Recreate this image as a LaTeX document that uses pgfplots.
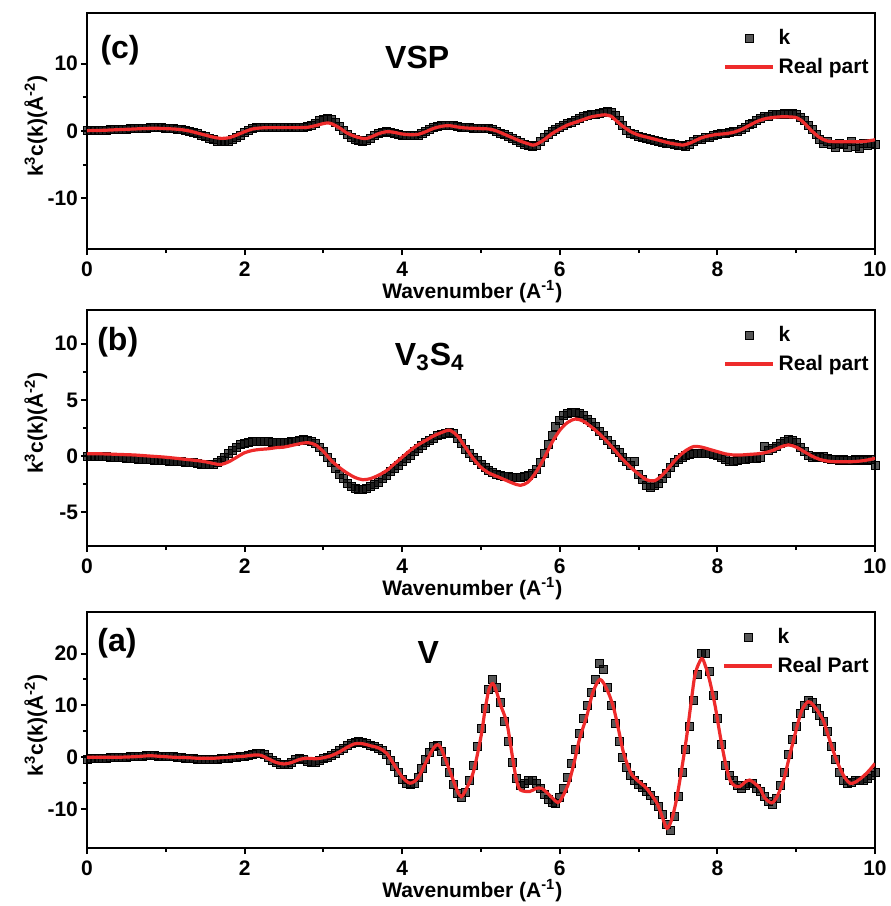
\documentclass[border=0pt]{standalone}
\usepackage{pgfplots}
\pgfplotsset{compat=1.18}
\usepackage{fontspec}
\setmainfont{Liberation Sans}
\definecolor{fitred}{HTML}{EE2B2B}
\tikzset{big/.style={font=\bfseries\fontsize{16}{19}\selectfont}}
\pgfplotsset{
 myax/.style={
  scale only axis, width=394pt, height=118pt, clip mode=individual,
  xmin=0, xmax=10, xtick={0,2,4,6,8,10}, minor x tick num=1, minor y tick num=1,
  axis line style={line width=1.2pt},
  tick style={line width=1pt, black},
  major tick length=3pt, minor tick length=2pt,
  tick align=outside, xtick pos=bottom, ytick pos=left,
  /pgf/number format/assume math mode=true,
  tick label style={font=\bfseries\fontsize{10.5}{12}\selectfont},
  yticklabel style={xshift=2pt},
  label style={font=\bfseries\fontsize{10.5}{13}\selectfont},
  xlabel={Wavenumber (A\textsuperscript{-1})},
  ylabel={k\textsuperscript{3}c(k)(Å\textsuperscript{-2})},
  xlabel style={at={(axis description cs:0.489,0)}, anchor=base, yshift=-24.5pt},
  ylabel style={at={(axis description cs:-0.056,0.52)}, anchor=base},
  legend style={draw=none, fill=none, at={(rel axis cs:1.005,0.965)}, anchor=north east,
    font=\bfseries\fontsize{10.5}{13}\selectfont, row sep=1pt},
  legend cell align=left,
  legend image code/.code={\draw[mark repeat=2,mark phase=2,#1] plot coordinates {(0pt,0pt) (12pt,0pt) (24pt,0pt)};},
 },
 dots/.style={only marks, mark=square*, mark size=2pt, mark options={draw=none, fill=black, fill opacity=0.66}},
 fit/.style={color=fitred, line width=1.6pt, smooth, mark=none},
}
\begin{document}
\begin{tikzpicture}
\useasboundingbox (-43.5pt,6.5pt) rectangle (401.5pt,-446.5pt);
% ---------------- (c) VSP
\begin{axis}[myax, at={(0pt,0pt)}, anchor=north west, ymin=-17.5, ymax=17.5, ytick={-10,0,10}]
\addplot[dots] coordinates {
(0.00,0.1)(0.05,0.1)(0.10,0.1)(0.15,0.1)(0.20,0.15)(0.25,0.15)(0.30,0.2)(0.35,0.2)(0.40,0.25)(0.45,0.3)
(0.50,0.3)(0.55,0.35)(0.60,0.4)(0.65,0.4)(0.70,0.45)(0.75,0.45)(0.80,0.5)(0.85,0.5)(0.90,0.5)(0.95,0.5)
(1.00,0.45)(1.05,0.4)(1.10,0.35)(1.15,0.3)(1.20,0.2)(1.25,0.1)(1.30,0.0)(1.35,-0.2)(1.40,-0.4)(1.45,-0.6)
(1.50,-0.85)(1.55,-1.1)(1.60,-1.3)(1.65,-1.5)(1.70,-1.6)(1.75,-1.6)(1.80,-1.5)(1.85,-1.3)(1.90,-1.0)(1.95,-0.6)
(2.00,-0.2)(2.05,0.1)(2.10,0.35)(2.15,0.5)(2.20,0.55)(2.25,0.6)(2.30,0.6)(2.35,0.6)(2.40,0.6)(2.45,0.6)
(2.50,0.6)(2.55,0.6)(2.60,0.6)(2.65,0.55)(2.70,0.55)(2.75,0.6)(2.80,0.7)(2.85,0.9)(2.90,1.2)(2.95,1.5)
(3.00,1.7)(3.05,1.8)(3.10,1.7)(3.15,1.3)(3.20,0.7)(3.25,0.1)(3.30,-0.5)(3.35,-0.9)(3.40,-1.2)(3.45,-1.4)
(3.50,-1.5)(3.55,-1.4)(3.60,-1.1)(3.65,-0.7)(3.70,-0.4)(3.75,-0.2)(3.80,-0.1)(3.85,-0.2)(3.90,-0.3)(3.95,-0.5)
(4.00,-0.6)(4.05,-0.7)(4.10,-0.7)(4.15,-0.7)(4.20,-0.6)(4.25,-0.4)(4.30,-0.1)(4.35,0.2)(4.40,0.5)(4.45,0.7)
(4.50,0.8)(4.55,0.9)(4.60,0.9)(4.65,0.8)(4.70,0.7)(4.75,0.6)(4.80,0.5)(4.85,0.5)(4.90,0.45)(4.95,0.45)
(5.00,0.4)(5.05,0.4)(5.10,0.35)(5.15,0.2)(5.20,0.0)(5.25,-0.3)(5.30,-0.5)(5.35,-0.8)(5.40,-1.1)(5.45,-1.4)
(5.50,-1.7)(5.55,-2.0)(5.60,-2.2)(5.65,-2.3)(5.70,-2.1)(5.75,-1.6)(5.80,-1.0)(5.85,-0.5)(5.90,-0.1)(5.95,0.3)
(6.00,0.6)(6.05,0.8)(6.10,1.1)(6.15,1.3)(6.20,1.6)(6.25,1.9)(6.30,2.1)(6.35,2.3)(6.40,2.4)(6.45,2.5)
(6.50,2.6)(6.55,2.7)(6.60,2.9)(6.65,2.8)(6.70,2.3)(6.75,1.6)(6.80,0.8)(6.85,0.1)(6.90,-0.3)(6.95,-0.5)
(7.00,-0.8)(7.05,-0.9)(7.10,-1.1)(7.15,-1.3)(7.20,-1.4)(7.25,-1.5)(7.30,-1.7)(7.35,-1.8)(7.40,-1.9)(7.45,-2.0)
(7.50,-2.1)(7.55,-2.2)(7.60,-2.3)(7.65,-2.0)(7.70,-1.6)(7.75,-1.3)(7.80,-1.2)(7.85,-0.9)(7.90,-0.9)(7.95,-0.6)
(8.00,-0.5)(8.05,-0.4)(8.10,-0.4)(8.15,-0.2)(8.20,-0.1)(8.25,0.0)(8.30,0.3)(8.35,0.6)(8.40,1.0)(8.45,1.2)
(8.50,1.5)(8.55,1.9)(8.60,2.1)(8.65,2.2)(8.70,2.4)(8.75,2.5)(8.80,2.4)(8.85,2.6)(8.90,2.5)(8.95,2.6)
(9.00,2.4)(9.05,2.0)(9.10,1.5)(9.15,0.9)(9.20,0.3)(9.25,-0.5)(9.30,-1.2)(9.35,-1.8)(9.40,-1.5)(9.45,-2.0)
(9.50,-2.4)(9.55,-1.9)(9.60,-2.0)(9.65,-2.4)(9.70,-1.6)(9.75,-2.3)(9.80,-2.6)(9.85,-1.8)(9.90,-2.2)(9.95,-1.9)(10.00,-2.0)
};
\addlegendentry{k}
\addplot[fit] coordinates {
(0,0.05)(0.2,0.1)(0.4,0.2)(0.6,0.3)(0.8,0.4)(0.9,0.4)(1.0,0.35)(1.1,0.3)(1.2,0.2)(1.3,0.0)
(1.4,-0.3)(1.5,-0.6)(1.6,-0.9)(1.7,-1.1)(1.8,-1.0)(1.9,-0.6)(2.0,-0.1)(2.1,0.3)(2.2,0.45)(2.3,0.5)
(2.4,0.5)(2.5,0.5)(2.6,0.5)(2.7,0.5)(2.8,0.55)(2.9,0.8)(3.0,1.1)(3.06,1.2)(3.1,1.1)(3.2,0.5)
(3.3,-0.3)(3.4,-0.8)(3.5,-1.1)(3.55,-1.1)(3.6,-0.9)(3.7,-0.4)(3.8,-0.1)(3.9,-0.2)(4.0,-0.45)(4.1,-0.55)
(4.2,-0.5)(4.3,-0.1)(4.4,0.4)(4.5,0.7)(4.6,0.8)(4.7,0.6)(4.8,0.45)(4.9,0.4)(5.0,0.35)(5.1,0.3)
(5.2,0.0)(5.3,-0.5)(5.4,-1.0)(5.5,-1.5)(5.6,-1.9)(5.66,-2.1)(5.7,-2.0)(5.8,-1.3)(5.9,-0.4)(6.0,0.3)
(6.1,0.9)(6.2,1.3)(6.3,1.7)(6.4,2.1)(6.5,2.3)(6.57,2.4)(6.65,2.2)(6.7,1.7)(6.8,0.7)(6.9,-0.1)
(7.0,-0.6)(7.1,-0.9)(7.2,-1.2)(7.3,-1.5)(7.4,-1.8)(7.5,-2.0)(7.56,-2.1)(7.65,-1.8)(7.8,-1.0)(7.9,-0.7)
(8.0,-0.5)(8.1,-0.4)(8.2,-0.2)(8.3,0.2)(8.4,0.8)(8.5,1.4)(8.6,1.8)(8.7,2.0)(8.8,2.1)(8.9,2.1)
(9.0,2.0)(9.05,1.7)(9.1,1.2)(9.2,0.0)(9.3,-1.0)(9.4,-1.5)(9.5,-1.6)(9.6,-1.6)(9.7,-1.6)(9.8,-1.6)(9.9,-1.5)(10.0,-1.3)
};
\addlegendentry{Real part}
\node[big] at (rel axis cs:0.042,0.843) {(c)};
\node[big] at (rel axis cs:0.419,0.81) {VSP};
\end{axis}
% ---------------- (b) V3S4
\begin{axis}[myax, at={(0pt,-148.5pt)}, anchor=north west, ymin=-8, ymax=13, ytick={-5,0,5,10}]
\addplot[dots] coordinates {
(0.00,0.0)(0.05,0.0)(0.10,0.0)(0.15,0.0)(0.20,0.0)(0.25,-0.05)(0.30,-0.1)(0.35,-0.1)(0.40,-0.1)(0.45,-0.15)
(0.50,-0.2)(0.55,-0.2)(0.60,-0.2)(0.65,-0.25)(0.70,-0.3)(0.75,-0.3)(0.80,-0.3)(0.85,-0.35)(0.90,-0.4)(0.95,-0.4)
(1.00,-0.4)(1.05,-0.45)(1.10,-0.5)(1.15,-0.5)(1.20,-0.5)(1.25,-0.55)(1.30,-0.6)(1.35,-0.6)(1.40,-0.65)(1.45,-0.7)
(1.50,-0.7)(1.55,-0.7)(1.60,-0.7)(1.65,-0.6)(1.70,-0.4)(1.75,-0.1)(1.80,0.2)(1.85,0.5)(1.90,0.8)(1.95,1.0)
(2.00,1.15)(2.05,1.25)(2.10,1.3)(2.15,1.35)(2.20,1.35)(2.25,1.3)(2.30,1.3)(2.35,1.25)(2.40,1.2)(2.45,1.2)
(2.50,1.2)(2.55,1.25)(2.60,1.3)(2.65,1.35)(2.70,1.4)(2.75,1.45)(2.80,1.4)(2.85,1.3)(2.90,1.1)(2.95,0.8)
(3.00,0.4)(3.05,-0.1)(3.10,-0.6)(3.15,-1.1)(3.20,-1.6)(3.25,-2.0)(3.30,-2.4)(3.35,-2.7)(3.40,-2.85)(3.45,-2.95)
(3.50,-2.95)(3.55,-2.85)(3.60,-2.7)(3.65,-2.5)(3.70,-2.3)(3.75,-2.0)(3.80,-1.7)(3.85,-1.4)(3.90,-1.1)(3.95,-0.8)
(4.00,-0.5)(4.05,-0.2)(4.10,0.1)(4.15,0.4)(4.20,0.7)(4.25,0.95)(4.30,1.2)(4.35,1.4)(4.40,1.6)(4.45,1.8)
(4.50,1.95)(4.55,2.05)(4.60,2.1)(4.65,2.0)(4.70,1.6)(4.75,1.1)(4.80,0.6)(4.85,0.2)(4.90,-0.1)(4.95,-0.4)
(5.00,-0.7)(5.05,-1.0)(5.10,-1.25)(5.15,-1.45)(5.20,-1.6)(5.25,-1.7)(5.30,-1.8)(5.35,-1.85)(5.40,-1.9)(5.45,-1.9)
(5.50,-1.9)(5.55,-1.85)(5.60,-1.75)(5.65,-1.55)(5.70,-1.2)(5.75,-0.6)(5.80,0.2)(5.85,1.0)(5.90,1.8)(5.95,2.6)
(6.00,3.2)(6.05,3.6)(6.10,3.8)(6.15,3.9)(6.20,3.9)(6.25,3.8)(6.30,3.6)(6.35,3.3)(6.40,3.0)(6.45,2.6)
(6.50,2.2)(6.55,1.8)(6.60,1.4)(6.65,1.0)(6.70,0.6)(6.75,0.3)(6.80,-0.1)(6.85,-0.5)(6.90,-0.8)(6.95,-0.5)
(7.00,-1.6)(7.05,-2.1)(7.10,-2.6)(7.15,-2.75)(7.20,-2.6)(7.25,-2.4)(7.30,-2.0)(7.35,-1.5)(7.40,-1.0)(7.45,-0.6)
(7.50,-0.3)(7.55,-0.1)(7.60,0.05)(7.65,0.15)(7.70,0.2)(7.75,0.2)(7.80,0.2)(7.85,0.2)(7.90,0.2)(7.95,0.15)
(8.00,0.1)(8.05,-0.1)(8.10,-0.3)(8.15,-0.45)(8.20,-0.45)(8.25,-0.4)(8.30,-0.3)(8.35,-0.3)(8.40,-0.2)(8.45,-0.2)
(8.50,-0.2)(8.55,-0.1)(8.60,0.9)(8.65,0.5)(8.70,0.7)(8.75,0.9)(8.80,1.1)(8.85,1.3)(8.90,1.45)(8.95,1.4)
(9.00,1.2)(9.05,0.8)(9.10,0.4)(9.15,0.1)(9.20,-0.1)(9.25,0.0)(9.30,-0.1)(9.35,0.0)(9.40,-0.2)(9.45,-0.3)
(9.50,-0.3)(9.55,-0.4)(9.60,-0.3)(9.65,-0.4)(9.70,-0.4)(9.75,-0.3)(9.80,-0.4)(9.85,-0.3)(9.90,-0.4)(9.95,-0.3)(10.00,-0.8)
};
\addlegendentry{k}
\addplot[fit] coordinates {
(0.0,0.2)(0.2,0.2)(0.4,0.15)(0.6,0.1)(0.8,0.0)(1.0,-0.1)(1.2,-0.25)(1.4,-0.4)(1.5,-0.5)(1.6,-0.65)
(1.7,-0.75)(1.8,-0.5)(1.9,-0.1)(2.0,0.3)(2.1,0.5)(2.2,0.6)(2.3,0.65)(2.4,0.75)(2.5,0.8)(2.6,0.95)
(2.7,1.1)(2.8,1.2)(2.9,1.0)(3.0,0.4)(3.1,-0.4)(3.2,-1.0)(3.3,-1.5)(3.4,-1.9)(3.5,-2.1)(3.6,-2.0)
(3.7,-1.7)(3.8,-1.3)(3.9,-0.7)(4.0,-0.1)(4.1,0.5)(4.2,1.0)(4.3,1.4)(4.4,1.8)(4.5,2.1)(4.6,2.3)
(4.7,1.8)(4.8,0.8)(4.9,-0.2)(5.0,-1.0)(5.1,-1.5)(5.2,-1.8)(5.3,-2.1)(5.4,-2.4)(5.5,-2.6)(5.6,-2.3)
(5.7,-1.4)(5.8,-0.2)(5.9,1.2)(6.0,2.3)(6.1,3.0)(6.2,3.3)(6.3,3.1)(6.4,2.6)(6.5,2.0)(6.6,1.3)
(6.7,0.5)(6.8,-0.3)(6.9,-1.0)(7.0,-1.6)(7.1,-2.1)(7.2,-2.2)(7.3,-1.7)(7.4,-0.9)(7.5,-0.1)(7.6,0.5)
(7.7,0.85)(7.8,0.8)(7.9,0.6)(8.0,0.4)(8.1,0.2)(8.2,0.1)(8.3,0.1)(8.4,0.15)(8.5,0.2)(8.6,0.3)
(8.7,0.5)(8.8,0.8)(8.9,1.0)(9.0,0.8)(9.1,0.4)(9.2,0.0)(9.3,-0.3)(9.4,-0.45)(9.5,-0.5)(9.6,-0.5)
(9.7,-0.5)(9.8,-0.45)(9.9,-0.35)(10.0,-0.2)
};
\addlegendentry{Real part}
\node[big] at (rel axis cs:0.039,0.865) {(b)};
\node[big] at (rel axis cs:0.435,0.80) {V\textsubscript{3}S\textsubscript{4}};
\end{axis}
% ---------------- (a) V
\begin{axis}[myax, at={(0pt,-299.5pt)}, anchor=north west, ymin=-17.5, ymax=28, ytick={-10,0,10,20}]
\addplot[dots] coordinates {
(0.00,-0.4)(0.05,-0.3)(0.10,-0.3)(0.15,-0.2)(0.20,-0.2)(0.25,-0.2)(0.30,-0.1)(0.35,-0.1)(0.40,0.0)(0.45,0.0)
(0.50,0.0)(0.55,0.1)(0.60,0.1)(0.65,0.2)(0.70,0.2)(0.75,0.3)(0.80,0.3)(0.85,0.3)(0.90,0.2)(0.95,0.2)
(1.00,0.2)(1.05,0.1)(1.10,0.1)(1.15,0.0)(1.20,-0.1)(1.25,-0.2)(1.30,-0.2)(1.35,-0.3)(1.40,-0.4)(1.45,-0.4)
(1.50,-0.4)(1.55,-0.4)(1.60,-0.4)(1.65,-0.4)(1.70,-0.3)(1.75,-0.3)(1.80,-0.2)(1.85,-0.1)(1.90,0.0)(1.95,0.1)
(2.00,0.2)(2.05,0.4)(2.10,0.6)(2.15,0.8)(2.20,0.8)(2.25,0.5)(2.30,-0.1)(2.35,-0.6)(2.40,-1.0)(2.45,-1.3)
(2.50,-1.4)(2.55,-1.3)(2.60,-0.9)(2.65,-0.5)(2.70,-0.3)(2.75,-0.4)(2.80,-0.8)(2.85,-1.0)(2.90,-0.9)(2.95,-0.6)
(3.00,-0.3)(3.05,0.0)(3.10,0.4)(3.15,0.8)(3.20,1.3)(3.25,1.8)(3.30,2.2)(3.35,2.6)(3.40,2.9)(3.45,3.0)
(3.50,2.9)(3.55,2.6)(3.60,2.3)(3.65,2.0)(3.70,1.8)(3.75,1.4)(3.80,0.6)(3.85,-0.6)(3.90,-1.8)(3.95,-3.0)
(4.00,-4.2)(4.05,-5.0)(4.10,-5.3)(4.15,-5.0)(4.20,-3.8)(4.25,-2.2)(4.30,-0.5)(4.35,1.0)(4.40,2.0)(4.45,2.3)
(4.50,1.2)(4.55,-0.8)(4.60,-3.0)(4.65,-5.2)(4.70,-7.0)(4.75,-7.8)(4.80,-6.8)(4.85,-4.5)(4.90,-1.5)(4.95,2.0)
(5.00,5.5)(5.05,9.5)(5.10,13.0)(5.15,15.0)(5.20,13.5)(5.25,10.5)(5.30,7.0)(5.35,3.0)(5.40,-1.0)(5.45,-4.0)
(5.50,-5.5)(5.55,-5.0)(5.60,-4.5)(5.65,-4.4)(5.70,-5.0)(5.75,-6.0)(5.80,-7.2)(5.85,-8.2)(5.90,-8.8)(5.95,-8.9)
(6.00,-7.8)(6.05,-6.0)(6.10,-3.8)(6.15,-1.2)(6.20,1.5)(6.25,4.5)(6.30,7.5)(6.35,10.0)(6.40,12.5)(6.45,15.0)
(6.50,18.0)(6.55,17.0)(6.60,13.5)(6.65,10.0)(6.70,6.5)(6.75,3.0)(6.80,0.0)(6.85,-2.0)(6.90,-3.5)(6.95,-4.5)
(7.00,-5.2)(7.05,-5.8)(7.10,-6.5)(7.15,-7.3)(7.20,-8.3)(7.25,-9.5)(7.30,-11.0)(7.35,-13.0)(7.40,-14.2)(7.45,-11.5)
(7.50,-7.5)(7.55,-3.0)(7.60,1.5)(7.65,6.0)(7.70,11.0)(7.75,16.0)(7.80,20.0)(7.85,20.0)(7.90,16.5)(7.95,12.0)
(8.00,7.5)(8.05,2.5)(8.10,-1.5)(8.15,-3.5)(8.20,-4.5)(8.25,-5.5)(8.30,-6.0)(8.35,-5.5)(8.40,-5.0)(8.45,-5.0)
(8.50,-6.0)(8.55,-6.5)(8.60,-7.5)(8.65,-8.5)(8.70,-9.0)(8.75,-8.0)(8.80,-5.5)(8.85,-3.0)(8.90,0.5)(8.95,3.5)
(9.00,6.0)(9.05,8.5)(9.10,10.0)(9.15,11.0)(9.20,10.5)(9.25,9.5)(9.30,8.0)(9.35,7.0)(9.40,5.0)(9.45,2.0)
(9.50,-0.5)(9.55,-3.0)(9.60,-4.5)(9.65,-5.0)(9.70,-4.8)(9.75,-4.5)(9.80,-4.5)(9.85,-4.5)(9.90,-4.0)(9.95,-3.5)(10.00,-3.0)
};
\addlegendentry{k}
\addplot[fit] coordinates {
(0.0,0.0)(0.2,0.0)(0.4,0.0)(0.6,0.1)(0.7,0.2)(0.8,0.3)(0.9,0.2)(1.0,0.1)(1.1,0.0)(1.3,-0.1)
(1.4,-0.2)(1.6,-0.2)(1.7,-0.1)(1.8,0.0)(1.9,0.1)(2.0,0.2)(2.1,0.4)(2.2,0.4)(2.3,-0.3)(2.4,-1.0)
(2.5,-1.3)(2.6,-1.0)(2.7,-0.4)(2.8,-0.2)(2.9,-0.3)(3.0,-0.1)(3.1,0.3)(3.2,1.0)(3.3,1.9)(3.4,2.6)
(3.5,2.6)(3.6,2.2)(3.7,1.8)(3.8,0.8)(3.9,-1.5)(4.0,-3.8)(4.1,-5.0)(4.2,-4.0)(4.3,-1.0)(4.4,1.8)
(4.45,2.4)(4.5,1.5)(4.6,-2.5)(4.7,-6.5)(4.75,-7.6)(4.8,-6.5)(4.9,-3.0)(5.0,4.0)(5.05,9.0)(5.1,13.0)
(5.15,14.2)(5.2,12.5)(5.25,10.0)(5.33,6.5)(5.4,0.0)(5.45,-4.4)(5.5,-6.3)(5.62,-6.6)(5.7,-6.0)(5.77,-6.0)
(5.85,-7.0)(5.95,-8.5)(6.0,-8.5)(6.1,-5.5)(6.17,-1.8)(6.25,3.5)(6.34,7.8)(6.42,12.5)(6.51,15.0)(6.6,13.0)
(6.68,9.7)(6.75,5.0)(6.81,0.8)(6.9,-3.0)(6.98,-4.4)(7.1,-6.0)(7.23,-8.8)(7.3,-11.5)(7.36,-13.7)(7.42,-12.0)
(7.48,-8.2)(7.55,-2.0)(7.61,4.0)(7.67,11.0)(7.72,16.2)(7.8,19.0)(7.85,17.5)(7.9,14.9)(7.97,10.0)(8.03,4.6)
(8.1,-1.0)(8.16,-4.4)(8.22,-5.5)(8.29,-5.6)(8.35,-4.8)(8.41,-4.4)(8.47,-5.0)(8.54,-6.0)(8.6,-7.8)(8.69,-8.8)
(8.76,-7.5)(8.84,-4.4)(8.92,0.5)(9.0,5.3)(9.07,9.0)(9.15,10.7)(9.22,10.0)(9.34,7.2)(9.42,3.5)(9.51,-0.5)
(9.6,-3.5)(9.68,-5.0)(9.75,-4.8)(9.85,-3.7)(9.93,-2.5)(10.0,-1.2)
};
\addlegendentry{Real Part}
\node[big] at (rel axis cs:0.038,0.869) {(a)};
\node[big] at (rel axis cs:0.433,0.83) {V};
\end{axis}
\end{tikzpicture}
\end{document}
